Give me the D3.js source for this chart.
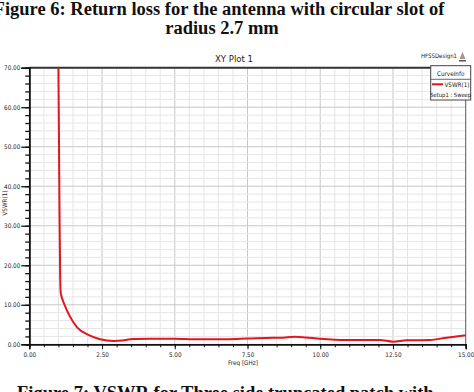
<!DOCTYPE html>
<html>
<head>
<meta charset="utf-8">
<script src="https://cdn.jsdelivr.net/npm/d3@7"></script>
<style>
  body { margin: 0; background: #fff; }
  svg { display: block; }
  .cap { font-family: "Liberation Serif", "Times New Roman", serif; font-weight: bold; font-size: 18.5px; fill: #111; }
  .tk { font-family: "DejaVu Sans Condensed", "Liberation Sans Narrow", sans-serif; font-size: 6.3px; fill: #222; }
</style>
</head>
<body>
<svg id="chart" width="474" height="392"></svg>
<script>
// VSWR(1) vs frequency
const freq = [1.00, 1.02, 1.04, 1.06, 1.08, 1.20, 1.40, 1.65, 2.03, 2.43, 2.89, 3.20, 3.56, 4.20, 5.00, 5.75, 6.78, 7.50, 8.38, 8.61, 9.13, 9.50, 9.99, 10.90, 12.05, 12.50, 12.97, 13.77, 14.34, 15.00];
const vswr = [70.0, 52.0, 32.0, 18.0, 13.0, 10.2, 7.0, 4.2, 2.4, 1.3, 0.85, 0.95, 1.34, 1.40, 1.42, 1.27, 1.27, 1.45, 1.68, 1.67, 1.93, 1.75, 1.42, 1.09, 1.09, 0.66, 1.00, 1.09, 1.67, 2.28];
const xTicks = [0, 2.5, 5, 7.5, 10, 12.5, 15];
const yTicks = [0, 10, 20, 30, 40, 50, 60, 70];

const svg = d3.select("#chart");
const m = {left: 29.3, right: 465.7, top: 67.7, bottom: 344.3};

const x = d3.scaleLinear().domain([0, 15]).range([m.left, m.right]);
const y = d3.scaleLinear().domain([0, 70]).range([m.bottom, m.top]);

// captions
svg.append("text").attr("class", "cap").attr("x", 219).attr("y", 14.5)
   .attr("text-anchor", "middle").text("Figure 6: Return loss for the antenna with circular slot of");
svg.append("text").attr("class", "cap").attr("x", 222).attr("y", 34)
   .attr("text-anchor", "middle").text("radius 2.7 mm");
svg.append("text").attr("class", "cap").attr("x", 17).attr("y", 398.5)
   .text("Figure 7: VSWR for Three side truncated patch with");

// plot header
svg.append("text").attr("x", 234).attr("y", 61.5).attr("text-anchor", "middle")
   .style("font-family", "DejaVu Sans Condensed, sans-serif").style("font-size", "9.5px").style("fill", "#222")
   .text("XY Plot 1");
svg.append("text").attr("x", 457).attr("y", 58).attr("text-anchor", "end")
   .style("font-family", "DejaVu Sans Condensed, sans-serif").style("font-size", "6px").style("fill", "#222")
   .text("HFSSDesign1");
// little logo
svg.append("path").attr("d", "M462.5,52 L459.5,59 L465.5,59 Z").attr("fill", "#b09090");
svg.append("rect").attr("x", 459).attr("y", 60).attr("width", 7).attr("height", 1.5).attr("fill", "#555");

// grid
const g = svg.append("g");
const xMinor = d3.range(0, 15.01, 0.5);
const yMinor = d3.range(0, 70.01, 2);
g.selectAll(".xm").data(xMinor).enter().append("line")
 .attr("x1", d => x(d)).attr("x2", d => x(d)).attr("y1", m.top).attr("y2", m.bottom)
 .attr("stroke", d => (d % 2.5 === 0) ? "#c8c8c8" : "#e6e6e6").attr("stroke-width", 1);
g.selectAll(".ym").data(yMinor).enter().append("line")
 .attr("x1", m.left).attr("x2", m.right).attr("y1", d => y(d)).attr("y2", d => y(d))
 .attr("stroke", d => (d % 10 === 0) ? "#c8c8c8" : "#e6e6e6").attr("stroke-width", 1);

// frame
svg.append("line").attr("x1", m.left).attr("x2", m.right).attr("y1", m.top).attr("y2", m.top)
   .attr("stroke", "#333").attr("stroke-width", 2);
svg.append("line").attr("x1", m.right).attr("x2", m.right).attr("y1", m.top).attr("y2", m.bottom)
   .attr("stroke", "#666").attr("stroke-width", 1);

// axes
const yAxisMinor = d3.axisLeft(y).tickValues(yMinor).tickSize(4).tickFormat("");
const yAxis = d3.axisLeft(y).tickValues(yTicks).tickSize(8).tickPadding(1).tickFormat(d3.format(".2f"));
const xAxisMinor = d3.axisBottom(x).tickValues(xMinor).tickSize(3).tickFormat("");
const xAxis = d3.axisBottom(x).tickValues(xTicks).tickSize(5).tickPadding(3).tickFormat(d3.format(".2f"));

[yAxisMinor, yAxis].forEach(a => {
  const ga = svg.append("g").attr("transform", `translate(${m.left},0)`).call(a);
  ga.select(".domain").attr("stroke", "#111").attr("stroke-width", 1.5);
  ga.selectAll(".tick line").attr("stroke", "#111").attr("stroke-width", 1.3);
  ga.selectAll("text").attr("class", "tk").attr("fill", null);
});
[xAxisMinor, xAxis].forEach(a => {
  const ga = svg.append("g").attr("transform", `translate(0,${m.bottom})`).call(a);
  ga.select(".domain").attr("stroke", "#111").attr("stroke-width", 1.5);
  ga.selectAll(".tick line").attr("stroke", "#111").attr("stroke-width", 1);
  ga.selectAll("text").attr("class", "tk").attr("fill", null);
});

// axis labels
svg.append("text").attr("class", "tk").attr("transform", "translate(7,203) rotate(-90)")
   .attr("text-anchor", "middle").text("VSWR(1)");
svg.append("text").attr("class", "tk").attr("x", 243).attr("y", 365)
   .attr("text-anchor", "middle").text("Freq [GHz]");

// curve
const pts = freq.map((f, i) => [f, vswr[i]]);
svg.append("path").datum(pts)
   .attr("d", d3.line().x(d => x(d[0])).y(d => y(d[1])).curve(d3.curveMonotoneX))
   .attr("fill", "none").attr("stroke", "#e3151d").attr("stroke-width", 2);

// legend
const lg = svg.append("g");
lg.append("rect").attr("x", 430.7).attr("y", 65.7).attr("width", 40).attr("height", 34.3)
  .attr("fill", "#fff").attr("stroke", "#444").attr("stroke-width", 1);
lg.append("line").attr("x1", 430.7).attr("x2", 470.7).attr("y1", 79.3).attr("y2", 79.3)
  .attr("stroke", "#444").attr("stroke-width", 0.8);
lg.append("text").attr("class", "tk").attr("x", 450.7).attr("y", 75.5).attr("text-anchor", "middle").text("CurveInfo");
lg.append("line").attr("x1", 432).attr("x2", 443).attr("y1", 84.3).attr("y2", 84.3)
  .attr("stroke", "#e3151d").attr("stroke-width", 2);
lg.append("text").attr("class", "tk").attr("x", 469.5).attr("y", 87).attr("text-anchor", "end").text("VSWR(1)");
lg.append("text").attr("class", "tk").attr("x", 450.7).attr("y", 97).attr("text-anchor", "middle")
  .style("font-size", "5.8px").text("Setup1 : Sweep");
</script>
</body>
</html>
